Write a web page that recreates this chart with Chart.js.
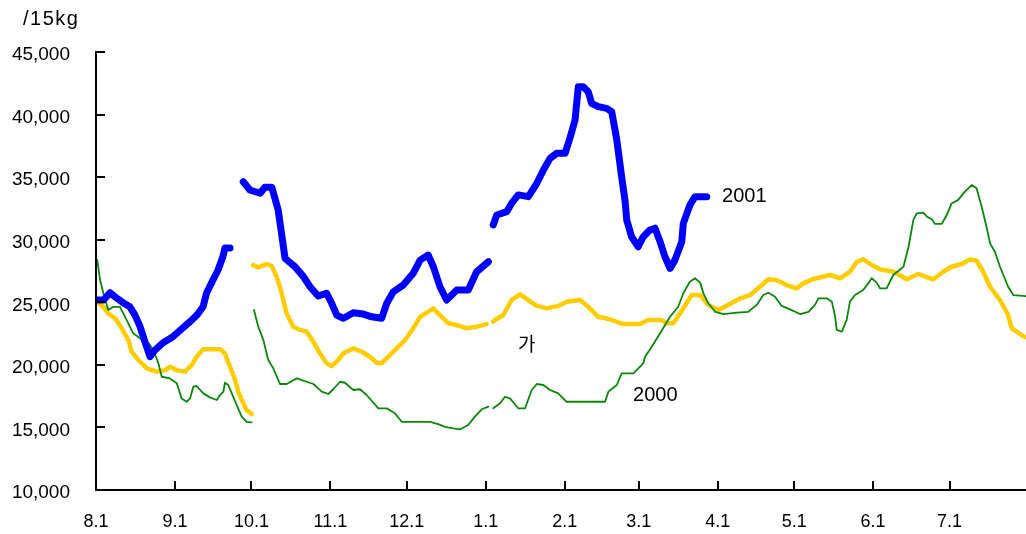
<!DOCTYPE html>
<html>
<head>
<meta charset="utf-8">
<script src="https://cdn.jsdelivr.net/npm/chart.js@4.4.1/dist/chart.umd.min.js"></script>
<style>
  body { margin: 0; background: #fff; }
  canvas { display: block; }
</style>
</head>
<body>
<canvas id="priceChart" width="1026" height="534"></canvas>
<script>
//-------------------------------------------------------------
// Data (x = days since 8.1, y = won per 15kg, null = break)
//-------------------------------------------------------------
const monthDays = [0, 31, 61, 92, 122, 153, 184, 213, 244, 274, 305, 335];
const monthLabels = ["8.1", "9.1", "10.1", "11.1", "12.1", "1.1", "2.1", "3.1", "4.1", "5.1", "6.1", "7.1"];
const yTicks = [10000, 15000, 20000, 25000, 30000, 35000, 40000, 45000];

const days2001 = [
  0, 3, 5.5, 8.1, 10.6, 13.3, 15.3, 17.3, 19.2, 21.2, 23.2, 26.3, 30.2, 34.1, 36.9, 39.6, 42, 43.4, 45.9, 47.9, 49.8, 50.6, 52.6,
  55,
  57.8, 60.4, 64.4, 66.3, 69, 71.5, 74.2, 78.1, 81.4, 84, 87.2, 90.5, 92.5, 94.5, 97.1, 101, 104.9, 108.2, 112.1, 114.1, 116.7,
  120.6, 124.5, 127.2, 130.4, 132.4, 135, 137.6, 141.6, 146.1, 149.4, 154,
  155,
  155.9, 157.3, 161.2, 163.1, 165.7, 169.7, 173, 175.6, 178.2, 180.8, 184.1, 186, 188, 189.3, 191.2, 193.2, 194.5, 197.1,
  200.4, 202.4, 204.4, 206.3, 207.6, 208.3, 210.2, 212.8, 214.8, 217.4, 219.4, 221.4, 223.3, 225.3, 227.2, 229.9, 230.5,
  233.1, 235.1, 239.7
];
const price2001 = [
  25180, 25180, 25760, 25340, 24970, 24640, 23980, 23050, 21850, 20650, 21190, 21770, 22250, 22950, 23450, 23980, 24640, 25740, 26780, 27580, 28640, 29340, 29340,
  null,
  34630, 33970, 33710, 34190, 34190, 32370, 28510, 27840, 27050, 26240, 25500, 25720, 24920, 23980, 23720, 24160, 24060, 23840, 23720, 24920, 25840,
  26380, 27320, 28370, 28770, 27840, 26240, 25180, 25980, 25980, 27440, 28240,
  null,
  31180, 31970, 32240, 32900, 33580, 33440, 34510, 35570, 36500, 36900, 36900, 38110, 39560, 42230, 42230, 41830, 40900, 40630,
  40500, 40230, 37970, 35030, 33180, 31580, 30240, 29440, 30240, 30780, 30920, 29840, 28640, 27710, 28370, 29840, 31310,
  32770, 33440, 33440
];

const daysAvg = [
  0.3, 2.9, 4.8, 7.5, 10.1, 12.7, 14, 16.6, 19.9, 23.8, 27.1, 29, 31.7, 34.9, 37.6, 39.5, 42.1, 48.7, 50.6, 52.6, 54.6, 55.8, 57.8, 59.1, 61.1,
  61.4,
  61.7, 63.7, 67, 69, 70.9, 72.9, 74.8, 77.4, 80.1, 82.7, 85.3, 87.9, 90.5, 92.5, 95.1, 97.1, 101, 104.3, 107.5, 110.2, 112.1,
  114.7, 118, 121.3, 124.5, 127.2, 130.4, 132.4, 135, 138.3, 142.9, 145.5, 149.4, 153.3,
  154.5,
  155.8, 156.6, 159.9, 163.1, 166.4, 169.7, 173, 176.9, 181.4, 184.7, 190, 193.2, 197.1, 201.7, 206.9, 213.5, 216.7, 222, 224,
  226.6, 230.5, 233.8, 237.1, 240.3, 244.3, 247.5, 252.7, 256.7, 260.6, 263.9, 267.1, 271.1, 274.9, 277.6, 281.5, 288.1, 292,
  295.9, 298.6, 301.1, 304.4, 307.7, 312.9, 318.2, 322.7, 328.6, 332.5, 335.8, 339.8, 343, 345.6, 348.2, 350.9, 354.8, 358,
  359.4, 363.9, 365
];
const priceAvg = [
  25050, 24640, 24110, 23720, 22920, 21980, 21050, 20390, 19720, 19450, 19580, 19850, 19580, 19450, 19980, 20650, 21240, 21240, 20920, 19850, 18790, 17860, 16930, 16390, 16070,
  null,
  27980, 27790, 28060, 27900, 27050, 25720, 24110, 23050, 22790, 22650, 21850, 20920, 20120, 19900, 20390, 20920, 21320, 21050, 20650, 20170, 20120,
  20650, 21320, 21980, 22920, 23840, 24240, 24510, 23980, 23320, 23100, 22920, 23050, 23260,
  null,
  23450, 23580, 23980, 25180, 25640, 25180, 24710, 24510, 24710, 25050, 25180, 24640, 23840, 23640, 23260, 23260, 23580, 23580, 23320,
  23320, 24510, 25580, 25580, 24790, 24380, 24730, 25300, 25580, 26240, 26840, 26780, 26380, 26110, 26510, 26860, 27180, 26920,
  27440, 28240, 28430, 27980, 27640, 27440, 26840, 27260, 26840, 27440, 27840, 28060, 28430, 28320, 27440, 26240, 25180, 23980,
  22920, 22300, 22220
];

const days2000 = [
  0.5, 1.6, 2.9, 4.8, 6.8, 9.4, 11.4, 13.3, 14.6, 17.3, 19.2, 20.5, 22.5, 24.5, 25.8, 29, 31.7, 33.6, 35.6, 36.9, 38.2, 39.5,
  42.1, 44.7, 47.4, 48.7, 50, 50.6, 51.9, 53.3, 55.2, 57.2, 59.1, 61.1,
  61.5,
  62, 63.7, 65.7, 67.6, 69.6, 72.2, 74.8, 78.8, 82.7, 85.3, 88.6, 91.2, 93.1, 95.8, 97.7, 101, 103.6, 106.2, 110.8, 114.1,
  117.3, 120, 125.9, 131.1, 134.3, 137, 140.2, 142.9, 146.1, 148.7, 151.4, 154,
  155,
  155.9, 158.6, 160.5, 162.5, 165.7, 168.4, 171, 173, 175.6, 178.2, 181.4, 184.7, 192.6, 199.8, 201.1, 204.4, 206.3, 210.9,
  214.8, 215.5, 218.1, 221.4, 225.3, 228.5, 230.5, 233.1, 235.1, 237.1, 238.4, 240.3, 243, 246.3, 251.5, 256, 259.3, 261.9,
  263.9, 266.5, 269.1, 272.4, 276.3, 279.6, 282.2, 283.5, 286.8, 288.8, 290.1, 290.7, 292.7, 294.6, 295.9, 297.9, 301.1,
  303.1, 304.4, 306.4, 307.7, 310.3, 312.9, 316.9, 318.9, 320.8, 322.1, 324.7, 326.1, 328, 329.3, 331.9, 333.9, 335.8,
  338.4, 341, 343.7, 345.6, 347.6, 349.5, 350.9, 352.8, 354.8, 358, 360, 365
];
const price2000 = [
  28370, 26780, 25720, 24380, 24640, 24640, 23840, 23050, 22520, 22120, 21770, 21770, 21190, 20120, 19050, 18920, 18530, 17320, 17050, 17320, 18260, 18310,
  17720, 17400, 17190, 17590, 17860, 18570, 18390, 17720, 16790, 15860, 15450, 15400,
  null,
  24380, 23050, 21980, 20390, 19720, 18470, 18470, 18920, 18650, 18470, 17860, 17670, 18050, 18650, 18570, 17990, 18050, 17590, 16530, 16530,
  16130, 15450, 15450, 15450, 15270, 15050, 14930, 14850, 15190, 15860, 16450, 16660,
  null,
  16530, 16930, 17450, 17320, 16530, 16530, 17990, 18470, 18390, 17990, 17720, 17050, 17050, 17050, 17860, 18390, 19320, 19320,
  20120, 20650, 21450, 22520, 23840, 24640, 25720, 26650, 26920, 26570, 25720, 24920, 24240, 24060, 24180, 24240, 24790, 25580,
  25760, 25450, 24710, 24430, 24060, 24240, 24790, 25320, 25320, 25050, 23840, 22790, 22650, 23580, 25050, 25580, 25980,
  26510, 26920, 26570, 26110, 26110, 27180, 27840, 29440, 31580, 32110, 32160, 31840, 31630, 31260, 31260, 31970, 32900,
  33180, 33840, 34370, 34110, 32630, 31040, 29710, 29040, 27840, 26240, 25580, 25500
];

// in-plot text labels (left edge day, centre price)
const noteTexts = ["2001", "2000", "가"];
const noteDays = [245.7, 210.8, 165.6];
const notePrices = [33490, 17590, 21670];

//-------------------------------------------------------------
// Helpers
//-------------------------------------------------------------
function toPoints(days, prices) {
  return days.map((d, i) => ({ x: d, y: prices[i] }));
}

function lineSet(label, days, prices, color, width) {
  return {
    label,
    data: toPoints(days, prices),
    borderColor: color,
    backgroundColor: color,
    borderWidth: width,
    pointRadius: 0,
    tension: 0,
    spanGaps: false,
    borderCapStyle: "round",
    borderJoinStyle: "round",
    fill: false,
  };
}

const FONT = "'Liberation Sans', Arial, sans-serif";

//-------------------------------------------------------------
// Axes, inward ticks and text notes
//-------------------------------------------------------------
const framePlugin = {
  id: "frame",
  afterDatasetsDraw(chart) {
    const { ctx, chartArea: a, scales: { x, y } } = chart;
    ctx.save();
    ctx.strokeStyle = "#000";
    ctx.lineWidth = 2;
    ctx.beginPath();
    ctx.moveTo(a.left, a.top - 1);
    ctx.lineTo(a.left, a.bottom);
    ctx.lineTo(a.right, a.bottom);
    ctx.stroke();

    ctx.beginPath();
    for (const v of yTicks) {
      if (v === 10000) continue;
      const py = Math.round(y.getPixelForValue(v));
      ctx.moveTo(a.left, py);
      ctx.lineTo(a.left + 9, py);
    }
    for (const d of monthDays) {
      if (d === 0) continue;
      const px = Math.round(x.getPixelForValue(d));
      ctx.moveTo(px, a.bottom);
      ctx.lineTo(px, a.bottom - 9);
    }
    ctx.stroke();

    ctx.fillStyle = "#000";
    ctx.textBaseline = "middle";
    ctx.textAlign = "left";
    noteTexts.forEach((t, i) => {
      const isHangul = /[\uac00-\ud7a3]/.test(t);
      ctx.font = isHangul ? "19px 'Noto Sans CJK KR', sans-serif" : "20px " + FONT;
      ctx.fillText(t, x.getPixelForValue(noteDays[i]), y.getPixelForValue(notePrices[i]));
    });

    // unit above the y axis
    ctx.font = "20px " + FONT;
    if ("letterSpacing" in ctx) ctx.letterSpacing = "1.5px";
    ctx.fillText("/15kg", 23, 19);
    ctx.restore();
  },
};

//-------------------------------------------------------------
// Chart
//-------------------------------------------------------------
const ctx = document.getElementById("priceChart").getContext("2d");
new Chart(ctx, {
  type: "line",
  data: {
    datasets: [
      lineSet("2001", days2001, price2001, "#0000ff", 7),
      lineSet("2000", days2000, price2000, "#0a870a", 1.8),
      lineSet("가", daysAvg, priceAvg, "#ffcc00", 4.5),
    ],
  },
  options: {
    responsive: false,
    animation: false,
    layout: { padding: { top: 52, left: 0, right: 0, bottom: 0 } },
    plugins: { legend: { display: false }, tooltip: { enabled: false } },
    scales: {
      x: {
        type: "linear",
        min: 0,
        max: 365,
        afterBuildTicks: (s) => { s.ticks = monthDays.map((v) => ({ value: v })); },
        afterFit: (s) => { s.height = 44; },
        grid: { display: false, drawTicks: false },
        border: { display: false },
        ticks: {
          autoSkip: false,
          maxRotation: 0,
          padding: 21,
          color: "#000",
          font: { family: FONT, size: 18 },
          callback: (v) => monthLabels[monthDays.indexOf(v)],
        },
      },
      y: {
        min: 10000,
        max: 45000,
        afterBuildTicks: (s) => { s.ticks = yTicks.map((v) => ({ value: v })); },
        afterFit: (s) => { s.width = 96; },
        grid: { display: false, drawTicks: false },
        border: { display: false },
        ticks: {
          padding: 26,
          labelOffset: 3,
          color: "#000",
          font: { family: FONT, size: 19 },
          callback: (v) => v.toLocaleString("en-US"),
        },
      },
    },
  },
  plugins: [framePlugin],
});
</script>
</body>
</html>
